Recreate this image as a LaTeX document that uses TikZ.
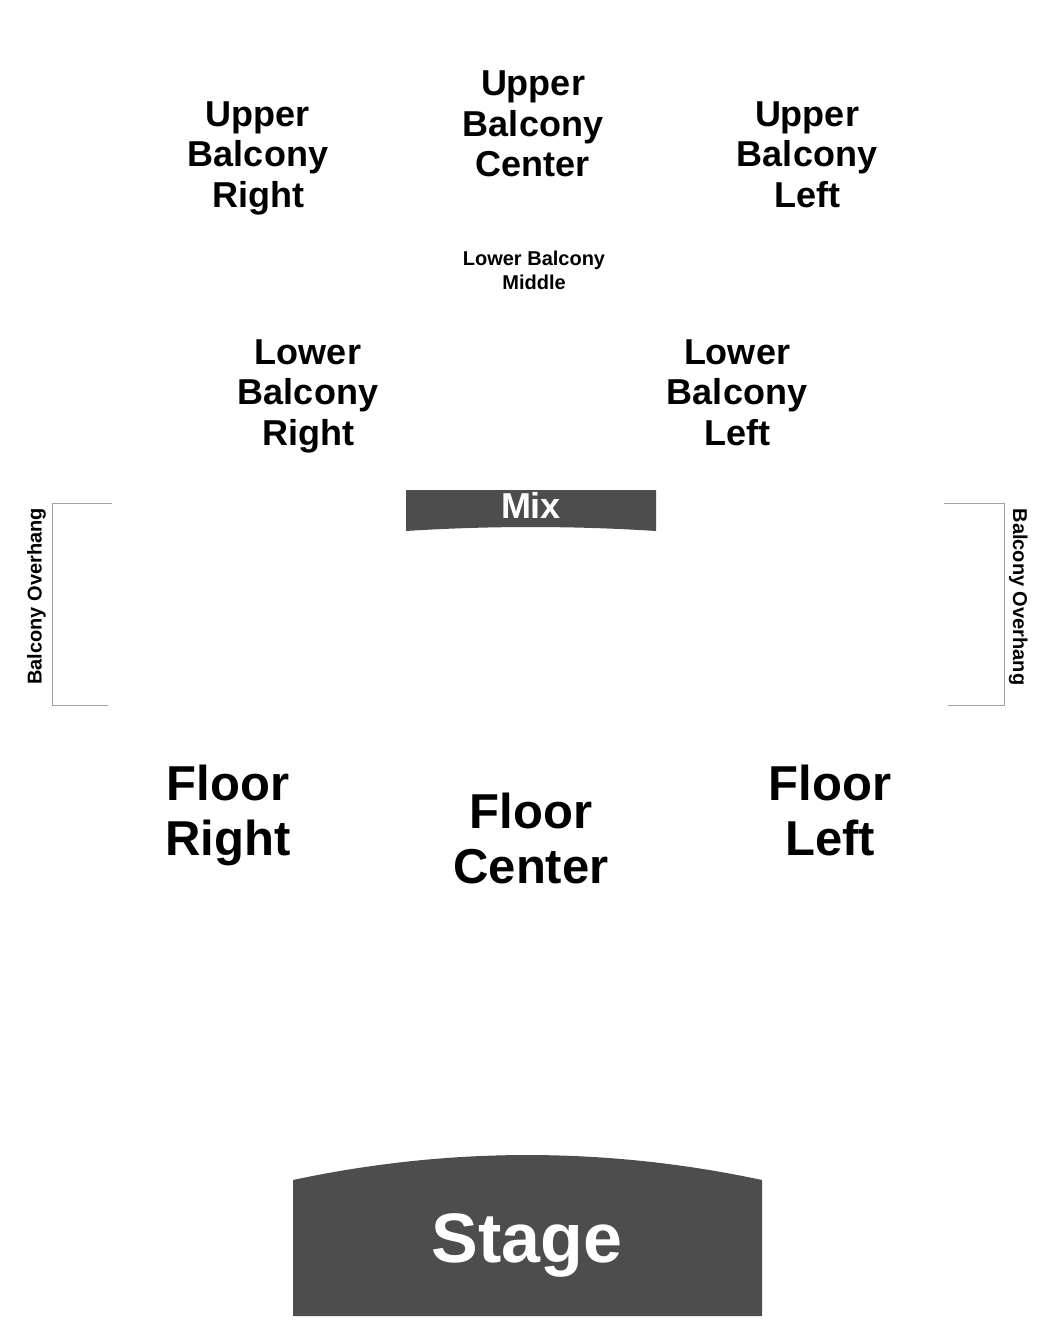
\documentclass[tikz,border=0pt]{standalone}
\usepackage{fontspec}
\setmainfont{Liberation Sans}
\definecolor{darkfill}{HTML}{4D4D4D}
\definecolor{linegray}{HTML}{A0A0A0}
\newcommand{\lbl}[3]{{\fontsize{#1}{#2}\selectfont\bfseries\begin{tabular}[t]{@{}c@{}}#3\end{tabular}}}
\tikzset{
  label/.style={anchor=base, inner sep=0pt, outer sep=0pt},
  darkshape/.style={fill=darkfill, draw=none},
  bracket/.style={draw=linegray, line width=1pt},
}
\begin{document}
\begin{tikzpicture}[x=1pt,y=-1pt]
\useasboundingbox[fill=white] (0,0) rectangle (1050,1338);
% upper balcony
\node[label] (ubr) at (258,126) {\lbl{36}{40.5}{Upper\\Balcony\\Right}};
\node[label] (ubc) at (533,95.5) {\lbl{36}{40.5}{Upper\\Balcony\\Center}};
\node[label] (ubl) at (807,126) {\lbl{36}{40.5}{Upper\\Balcony\\Left}};
% lower balcony
\node[label] (lbm) at (534,265.5) {\lbl{20}{23.5}{Lower Balcony\\Middle}};
\node[label] (lbr) at (308,364) {\lbl{36}{40.5}{Lower\\Balcony\\Right}};
\node[label] (lbl) at (737,364) {\lbl{36}{40.5}{Lower\\Balcony\\Left}};
% mix
\path[darkshape] (406,490) -- (656,490) -- (656,531)
  .. controls (573,525.7) and (489,525.7) .. (406,531) -- cycle;
\node[label, text=white] (mix) at (531,518.5) {\fontsize{36}{40}\selectfont\bfseries Mix};
% balcony overhang brackets
\draw[bracket] (112,503) -- (52,503) -- (52,705) -- (108,705);
\draw[bracket] (944,503) -- (1004,503) -- (1004,705) -- (948,705);
\node[label, rotate=90] (ohl) at (41.5,596.5) {\fontsize{20}{22}\selectfont\bfseries Balcony Overhang};
\node[label, rotate=-90] (ohr) at (1013,597) {\fontsize{20}{22}\selectfont\bfseries Balcony Overhang};
% floor
\node[label] (fr) at (228,800) {\lbl{49}{55}{Floor\\Right}};
\node[label] (fc) at (531,828) {\lbl{49}{55}{Floor\\Center}};
\node[label] (fl) at (830,800) {\lbl{49}{55}{Floor\\Left}};
% stage
\path[darkshape] (293,1180) .. controls (449,1146.7) and (606,1146.7) .. (762,1180)
  -- (762,1316) -- (293,1316) -- cycle;
\node[label, text=white] (stage) at (527,1262) {\fontsize{70}{80}\selectfont\bfseries Stage};
\end{tikzpicture}
\end{document}
